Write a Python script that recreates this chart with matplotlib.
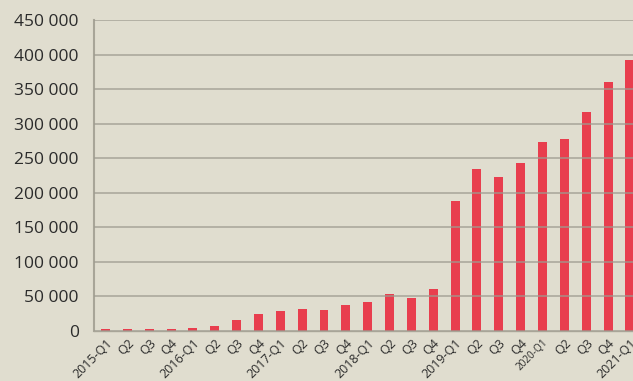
import matplotlib
matplotlib.use("Agg")
import matplotlib.pyplot as plt
from matplotlib.ticker import FuncFormatter

QUARTERS = ["2015-Q1", "Q2", "Q3", "Q4",
            "2016-Q1", "Q2", "Q3", "Q4",
            "2017-Q1", "Q2", "Q3", "Q4",
            "2018-Q1", "Q2", "Q3", "Q4",
            "2019-Q1", "Q2", "Q3", "Q4",
            "2020-Q1", "Q2", "Q3", "Q4",
            "2021-Q1"]
VALUES = [2300, 2300, 2200, 2300,
          4300, 7500, 16000, 24600,
          29000, 31800, 30800, 37600,
          42000, 53500, 47700, 60800,
          188000, 234400, 222800, 243100,
          273500, 277800, 316900, 360300,
          392000]
YTICKS = [0, 50000, 100000, 150000, 200000, 250000, 300000, 350000, 400000, 450000]

BG = "#E0DDCF"
RED = "#E83E4E"
GRID = "#9E9B90"
TEXT = "#2B2B2B"

plt.rcParams["font.family"] = ["Open Sans", "DejaVu Sans"]

fig = plt.figure(figsize=(6.33, 3.81), dpi=100, facecolor=BG)
ax = fig.add_axes([94 / 633, 1 - 331 / 381, 539 / 633, 311 / 381], facecolor=BG)

x = list(range(len(QUARTERS)))
ax.bar(x, VALUES, width=0.41, color=RED, zorder=2)

ax.set_yticks(YTICKS)
ax.set_ylim(0, 450000)
ax.yaxis.set_major_formatter(FuncFormatter(lambda v, _: f"{int(v):,}".replace(",", " ")))
ax.grid(axis="y", color=GRID, lw=1.2, alpha=0.8, zorder=3)
ax.set_axisbelow(False)

ax.set_xlim(-0.526, 24.14)
ax.set_xticks(x)
ax.set_xticklabels(QUARTERS, rotation=45, ha="right", rotation_mode="anchor")
for i, lab in enumerate(ax.get_xticklabels()):
    lab.set_fontsize(7.2 if QUARTERS[i] == "2020-Q1" else 9)
    lab.set_color(TEXT)

ax.tick_params(axis="y", length=0, pad=11, labelsize=12.5, colors=TEXT)
ax.tick_params(axis="x", length=0, pad=4)

for side in ["top", "right"]:
    ax.spines[side].set_visible(False)
ax.spines["left"].set_color("#A8A598")
ax.spines["left"].set_linewidth(1.5)
ax.spines["bottom"].set_color("#A8A598")
ax.spines["bottom"].set_linewidth(1.0)
ax.spines["bottom"].set_zorder(1)

fig.savefig("out.png", dpi=100, facecolor=BG)
